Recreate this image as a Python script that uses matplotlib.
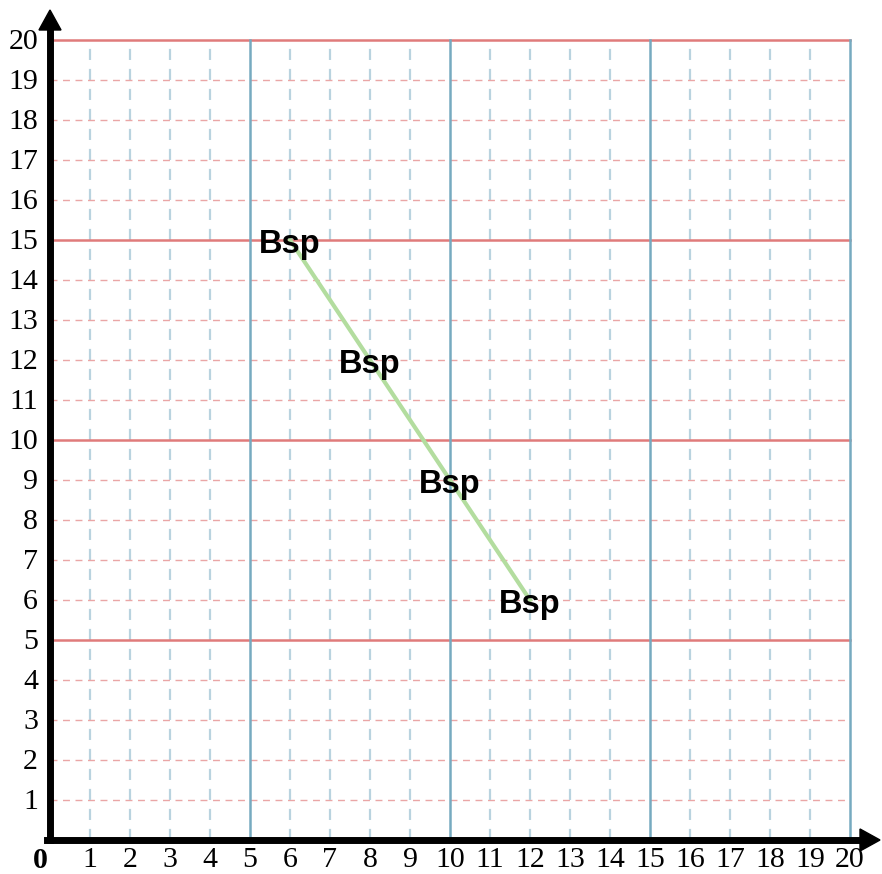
import numpy as np, matplotlib; matplotlib.use("Agg")
import matplotlib.pyplot as plt

# data
xticks = list(range(1, 21))
yticks = list(range(1, 21))
pts_x = [6, 8, 10, 12]
pts_y = [15, 12, 9, 6]
labels = ["Bsp", "Bsp", "Bsp", "Bsp"]

fig = plt.figure(figsize=(8.82, 8.74), dpi=100)
ax = fig.add_axes([0, 0, 1, 1])
ax.set_xlim(-1.25, 20.8); ax.set_ylim(-0.85, 21)
ax.axis("off")

# minor grid
for v in range(1, 20):
    if v % 5:
        ax.plot([0, 20], [v, v], c="#eaa6a6", lw=1, ls=(0, (5, 4)), zorder=1)
        ax.plot([v, v], [0, 19.9], c="#b9d3df", lw=1.6, ls=(0, (5, 4)), zorder=1)
# major grid
for v in [5, 10, 15, 20]:
    ax.plot([0, 20], [v, v], c="#e07b7b", lw=1.8, zorder=2)
for v in [5, 10, 15, 20]:
    ax.plot([v, v], [0, 20], c="#76aac0", lw=1.8, zorder=3)

# axes with arrows
ax.plot([0, 0], [-0.08, 20.3], c="k", lw=5, zorder=5, solid_capstyle="butt")
ax.plot([-0.08, 0], [0, 0], c="k", lw=5, zorder=5)
ax.plot([0, 20.3], [0, 0], c="k", lw=5, zorder=5, solid_capstyle="butt")
ax.fill([-0.8 / 2.9, 0.8 / 2.9, 0], [20.25, 20.25, 20.75], c="k", zorder=6)
ax.fill([20.25, 20.25, 20.75], [-0.8 / 2.9, 0.8 / 2.9, 0], c="k", zorder=6)

# tick labels
for t in xticks:
    ax.text(t, -0.5, str(t), ha="center", va="center", fontsize=21.5,
            family="Liberation Serif", zorder=7)
for t in yticks:
    ax.text(-0.3, t - 0.06, str(t), ha="right", va="center", fontsize=21.5,
            family="Liberation Serif", zorder=7)
ax.text(-0.25, -0.5, "0", ha="center", va="center", fontsize=21.5,
        family="Liberation Serif", fontweight="bold", zorder=7)

# line and labels
ax.plot([pts_x[0], pts_x[-1]], [pts_y[0], pts_y[-1]], c="#b3dd9f", lw=3, zorder=8)
for x, y, s in zip(pts_x, pts_y, labels):
    ax.text(x, y - 0.1, s, ha="center", va="center", fontsize=23.5, fontweight="bold",
            family="Liberation Sans", zorder=9)

fig.savefig("out.png", dpi=100)
